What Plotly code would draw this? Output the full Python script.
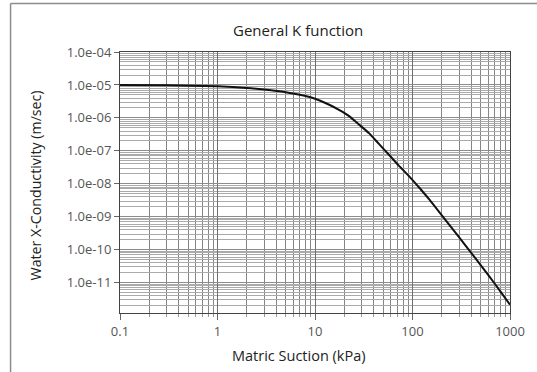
import plotly.graph_objects as go

# Data
suction_kpa = [0.1, 0.3, 1, 2, 3, 5, 7, 10, 14, 18, 22, 28, 36, 45, 57, 72, 91,
               120, 150, 200, 300, 437, 600, 800, 1000]
log_conductivity = [-5.00, -5.01, -5.04, -5.09, -5.14, -5.22, -5.30, -5.42, -5.60,
                    -5.77, -5.93, -6.19, -6.47, -6.78, -7.11, -7.44, -7.75,
                    -8.15, -8.49, -8.96, -9.62, -10.24, -10.77, -11.27, -11.67]
conductivity = [10 ** v for v in log_conductivity]

y_tick_vals = [1e-4, 1e-5, 1e-6, 1e-7, 1e-8, 1e-9, 1e-10, 1e-11]
y_tick_text = ["1.0e-04", "1.0e-05", "1.0e-06", "1.0e-07", "1.0e-08", "1.0e-09",
               "1.0e-10", "1.0e-11"]
x_tick_vals = [0.1, 1, 10, 100, 1000]
x_tick_text = ["0.1", "1", "10", "100", "1000"]

W, H = 537, 372
ml, mr, mt, mb = 120, 25, 52, 59
pw, ph = W - ml - mr, H - mt - mb

def px_x(p):
    return (p - ml) / pw

def px_y(p):
    return (H - mb - p) / ph

font_family = "Open Sans, Noto Sans, sans-serif"

fig = go.Figure()
fig.add_trace(go.Scatter(x=suction_kpa, y=conductivity, mode="lines",
                         line=dict(color="#111111", width=2, shape="spline", smoothing=0.6),
                         showlegend=False, hoverinfo="skip"))

fig.update_xaxes(type="log", range=[-1, 3], tickvals=x_tick_vals, ticktext=x_tick_text,
                 ticks="outside", ticklen=6, tickcolor="#666666",
                 showgrid=True, gridcolor="#6e6e6e", gridwidth=1,
                 minor=dict(dtick="D1", showgrid=True, gridcolor="#858585",
                            ticks="outside", ticklen=3, tickcolor="#999999"),
                 showline=True, linecolor="#444444", linewidth=1, mirror=True,
                 tickfont=dict(family=font_family, size=13, color="#555555"),
                 zeroline=False)
fig.update_yaxes(type="log", range=[-11.92, -4.0], tickvals=y_tick_vals, ticktext=y_tick_text,
                 ticks="outside", ticklen=5, tickcolor="#666666",
                 showgrid=True, gridcolor="#8c8c8c", gridwidth=1.2,
                 minor=dict(dtick="D1", showgrid=True, gridcolor="#aaaaaa"),
                 showline=True, linecolor="#444444", linewidth=1, mirror=True,
                 tickfont=dict(family=font_family, size=13, color="#555555"),
                 zeroline=False)

annotations = [
    dict(text="General K function", x=px_x(299), y=px_y(30), xref="paper", yref="paper",
         showarrow=False, xanchor="center", yanchor="middle",
         font=dict(family=font_family, size=15, color="#222222")),
    dict(text="Matric Suction (kPa)", x=px_x(300), y=px_y(355), xref="paper", yref="paper",
         showarrow=False, xanchor="center", yanchor="middle",
         font=dict(family=font_family, size=14.5, color="#222222")),
    dict(text="Water X-Conductivity (m/sec)", x=px_x(35), y=px_y(185), xref="paper",
         yref="paper", showarrow=False, xanchor="center", yanchor="middle", textangle=-90,
         font=dict(family=font_family, size=14.2, color="#222222")),
]

shapes = [
    dict(type="line", xref="paper", yref="paper", x0=px_x(10), x1=px_x(W + 5),
         y0=px_y(3.5), y1=px_y(3.5), line=dict(color="#8c8c8c", width=1.5)),
    dict(type="line", xref="paper", yref="paper", x0=px_x(10), x1=px_x(10),
         y0=px_y(3.5), y1=px_y(H + 5), line=dict(color="#8c8c8c", width=1.5)),
]

fig.update_layout(width=W, height=H, margin=dict(l=ml, r=mr, t=mt, b=mb),
                  paper_bgcolor="white", plot_bgcolor="white",
                  annotations=annotations, shapes=shapes,
                  font=dict(family=font_family))

fig.write_html("out.html")
